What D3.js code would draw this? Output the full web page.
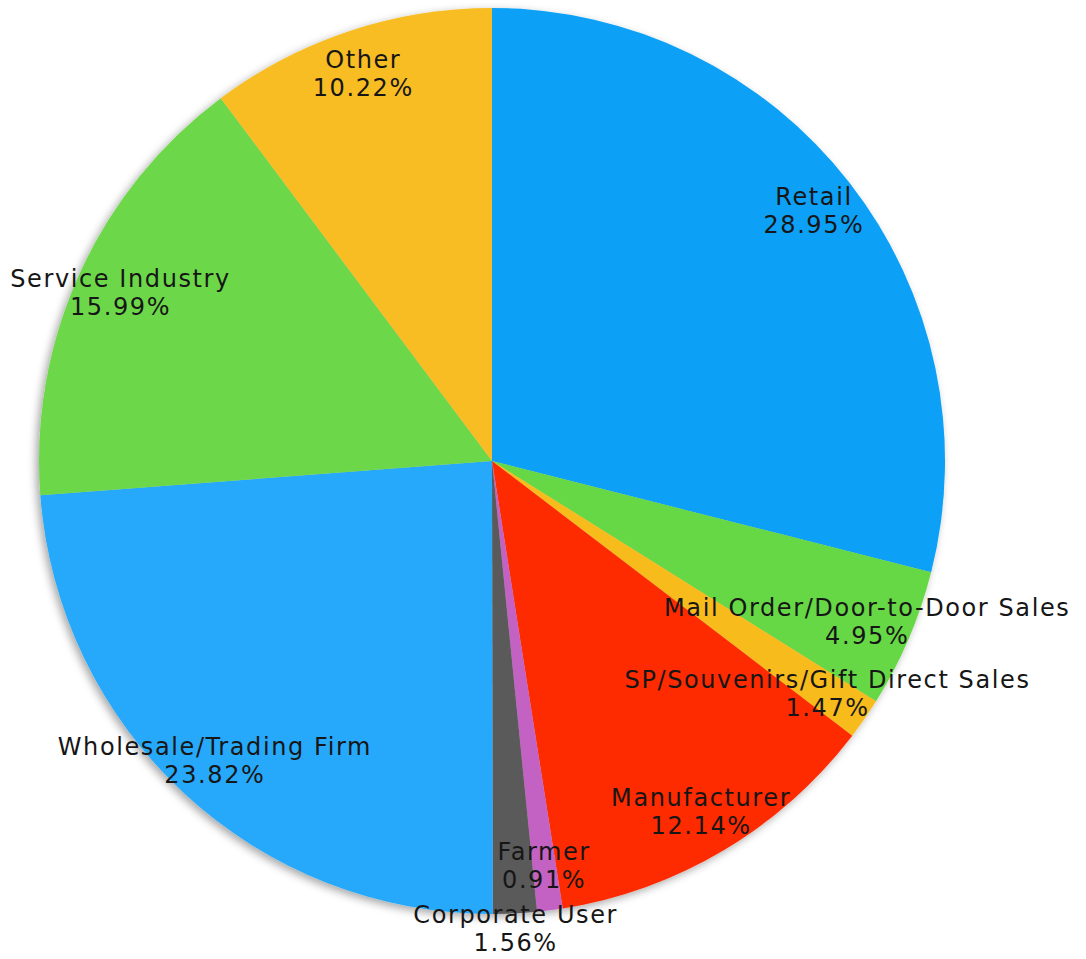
<!DOCTYPE html>
<html>
<head>
<meta charset="utf-8">
<script src="https://cdn.jsdelivr.net/npm/d3@7"></script>
<style>
  html, body { margin: 0; padding: 0; background: #fff; }
  svg { display: block; }
</style>
</head>
<body>
<div id="chart"></div>
<script>
// Slices, clockwise from 12 o'clock
const categories = ['Retail', 'Mail Order/Door-to-Door Sales', 'SP/Souvenirs/Gift Direct Sales',
    'Manufacturer', 'Farmer', 'Corporate User', 'Wholesale/Trading Firm', 'Service Industry', 'Other'];
const shares = [28.95, 4.95, 1.47, 12.14, 0.91, 1.56, 23.82, 15.99, 10.22];
const colors = ['#08a0f7', '#66d844', '#f8bb1c', '#fe2a00', '#c462c4', '#5a5a5a', '#26a9fa', '#6cd84a', '#f8bd22'];

const width = 1086, height = 959;
const cx = 492, cy = 461, radius = 453;

const svg = d3.select('#chart').append('svg')
    .attr('width', width)
    .attr('height', height);

// soft edge shadow like the original
const defs = svg.append('defs');
defs.append('filter')
    .attr('id', 'shadow')
    .attr('x', '-10%').attr('y', '-10%').attr('width', '120%').attr('height', '120%')
    .append('feDropShadow')
    .attr('dx', -3).attr('dy', 3)
    .attr('stdDeviation', 4)
    .attr('flood-color', '#000')
    .attr('flood-opacity', 0.35);

const data = categories.map((c, i) => ({ name: c, value: shares[i], color: colors[i] }));

const pie = d3.pie().value(d => d.value).sort(null);
const arcs = pie(data);

const arc = d3.arc().innerRadius(0).outerRadius(radius);
const g = svg.append('g').attr('transform', `translate(${cx},${cy})`);

g.append('g')
    .attr('filter', 'url(#shadow)')
    .selectAll('path')
    .data(arcs)
    .join('path')
    .attr('d', arc)
    .attr('fill', d => d.data.color);

// labels: two lines, centred around ~0.9R, pushed outward when they collide
const fontSize = 24, lineH = 28;
const labelR = 408;
const pad = 6;
const labels = g.append('g')
    .attr('font-family', '"DejaVu Sans", sans-serif')
    .attr('font-size', fontSize)
    .attr('letter-spacing', 1.6)
    .attr('fill', '#161616')
    .attr('text-anchor', 'middle');

const placed = [];
arcs.forEach(a => {
    const mid = (a.startAngle + a.endAngle) / 2;
    const t = labels.append('text');
    t.append('tspan').attr('x', 0).attr('dy', 0).text(a.data.name);
    t.append('tspan').attr('x', 0).attr('dy', lineH).text(a.data.value.toFixed(2) + '%');

    let r = labelR;
    let box;
    const place = () => {
        const x = Math.sin(mid) * r;
        const y = -Math.cos(mid) * r - lineH / 2 + fontSize * 0.35;
        t.attr('transform', `translate(${x},${y})`);
        const b = t.node().getBBox();
        box = { x0: x + b.x, x1: x + b.x + b.width, y0: y + b.y, y1: y + b.y + b.height };
    };
    place();
    const hits = () => placed.some(p => box.x0 < p.x1 && box.x1 > p.x0 && box.y0 < p.y1 + pad && box.y1 + pad > p.y0);
    while (hits() && r < radius + 100) {
        r += 2;
        place();
    }
    placed.push(box);
});
</script>
</body>
</html>
